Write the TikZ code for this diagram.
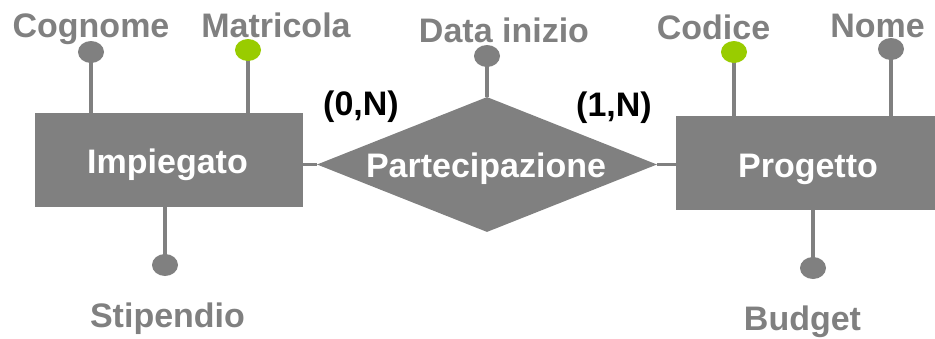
\documentclass[tikz,border=0pt]{standalone}
\usepackage{fontspec}
\setmainfont{Liberation Sans}
\usetikzlibrary{shapes.geometric}
\definecolor{ergrey}{HTML}{808080}
\definecolor{ergreen}{HTML}{99CC00}
\tikzset{
  entity/.style={rectangle, fill=ergrey, draw=none, inner sep=0pt},
  relbox/.style={diamond, fill=ergrey, draw=none, inner sep=0pt, minimum width=340pt, minimum height=135pt, aspect=2.5185},
  attdot/.style={ellipse, fill=ergrey, draw=none, inner sep=0pt, minimum width=26pt, minimum height=22pt},
  keydot/.style={attdot, fill=ergreen},
  attline/.style={draw=ergrey, line width=4pt},
  conn/.style={draw=ergrey, line width=3.5pt},
  bigtext/.style={font=\fontsize{34}{40}\selectfont\bfseries, inner sep=0pt, anchor=base},
  atext/.style={bigtext, text=ergrey},
  wtext/.style={bigtext, text=white},
  ctext/.style={bigtext, text=black},
}
\begin{document}
\begin{tikzpicture}[x=1pt, y=-1pt]
\useasboundingbox (0,0) rectangle (935,338);
% entities and relationship
\node[entity, minimum width=268pt, minimum height=94pt] (imp) at (169,160) {};
\node[entity, minimum width=259pt, minimum height=94pt] (prog) at (805.5,163) {};
\node[relbox] (rel) at (487,164.5) {};
\node[wtext] (impt) at (167.5,173) {Impiegato};
\node[wtext] (progt) at (808,177) {Progetto};
\node[wtext] (relt) at (486,177) {Partecipazione};
% connectors
\draw[conn] (imp.east |- rel.west) -- (rel.west);
\draw[conn] (rel.east) -- (prog.west |- rel.east);
% attribute dots (positions)
\coordinate (cog) at (91,52);
\coordinate (mat) at (248,50);
\coordinate (dat) at (487,56);
\coordinate (cod) at (734,52);
\coordinate (nom) at (891,49);
\coordinate (sti) at (165,265);
\coordinate (bud) at (813,268);
% attribute lines
\draw[attline] (cog) -- (cog |- imp.north);
\draw[attline] (mat) -- (mat |- imp.north);
\draw[attline] (dat) -- (dat |- rel.north);
\draw[attline] (cod) -- (cod |- prog.north);
\draw[attline] (nom) -- (nom |- prog.north);
\draw[attline] (sti) -- (sti |- imp.south);
\draw[attline] (bud) -- (bud |- prog.south);
% dots
\node[attdot] (cogd) at (cog) {};
\node[keydot] (matd) at (mat) {};
\node[attdot] (datd) at (dat) {};
\node[keydot] (codd) at (cod) {};
\node[attdot] (nomd) at (nom) {};
\node[attdot] (stid) at (sti) {};
\node[attdot] (budd) at (bud) {};
% attribute labels
\node[atext] (cogt) at (91,37) {Cognome};
\node[atext] (matt) at (276,37) {Matricola};
\node[atext] (datt) at (504,42) {Data inizio};
\node[atext] (codt) at (713.5,39) {Codice};
\node[atext] (nomt) at (877.5,37) {Nome};
\node[atext] (stit) at (167.5,327) {Stipendio};
\node[atext] (budt) at (802.5,330) {Budget};
% cardinalities
\node[ctext] (c1) at (361,115) {(0,N)};
\node[ctext] (c2) at (614,116) {(1,N)};
\end{tikzpicture}
\end{document}
